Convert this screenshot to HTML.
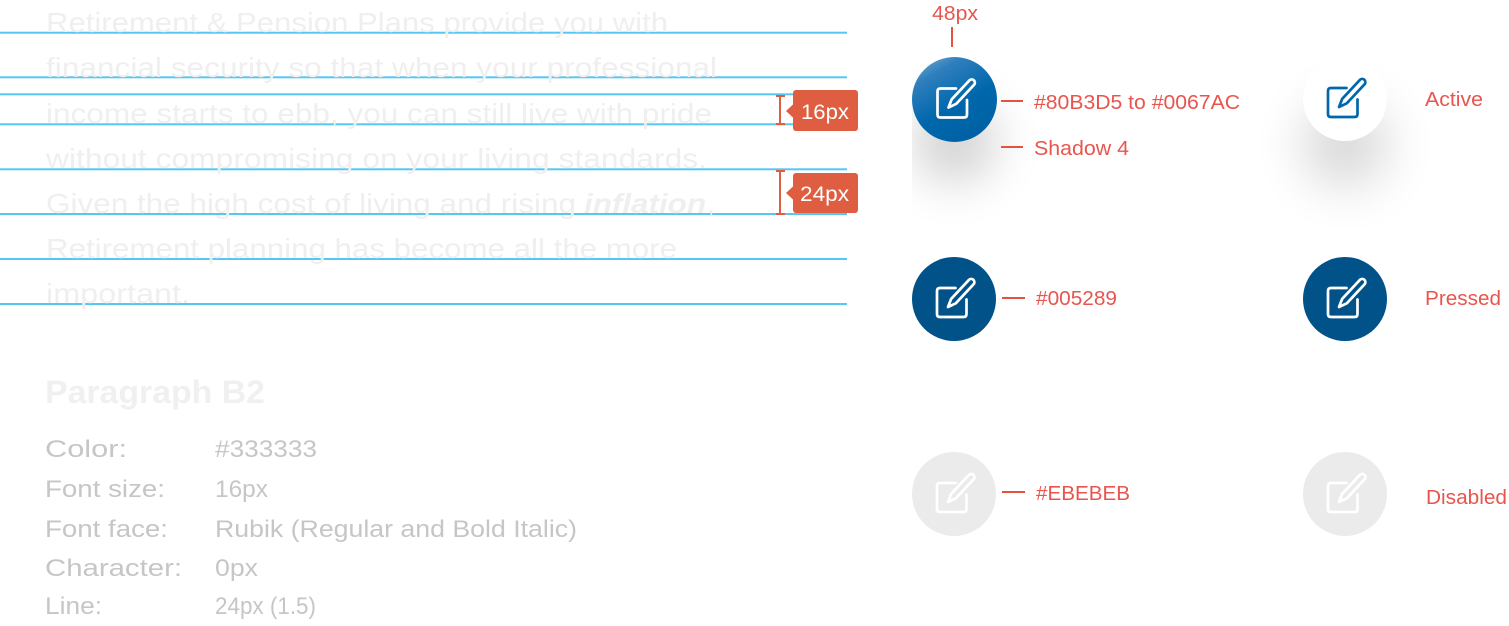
<!DOCTYPE html>
<html>
<head>
<meta charset="utf-8">
<style>
  html,body{margin:0;padding:0;background:#fff;}
  body{width:1509px;height:626px;position:relative;overflow:hidden;font-family:"Liberation Sans",sans-serif;}
  .clip{position:absolute;overflow:hidden;}
  .circ{position:absolute;border-radius:50%;}
  svg{position:absolute;left:0;top:0;}
</style>
</head>
<body>

<!-- shadowed circle 1 (clipped at left edge) -->
<div class="clip" style="left:912px;top:0;width:300px;height:240px;">
  <div class="circ" style="left:0;top:57px;width:85px;height:85px;background:linear-gradient(150deg,#80B3D5 0%,#2f7fbd 22%,#0067AC 55%,#005fa0 100%);box-shadow:0 42px 45px rgba(0,0,0,0.17);"></div>
</div>
<!-- active -->
<div class="circ" style="left:1303px;top:57px;width:84px;height:84px;background:#fff;box-shadow:0 45px 50px rgba(0,0,0,0.16);"></div>
<!-- pressed -->
<div class="circ" style="left:912px;top:257px;width:84px;height:84px;background:#005289;"></div>
<div class="circ" style="left:1303px;top:257px;width:84px;height:84px;background:#005289;"></div>
<!-- disabled -->
<div class="circ" style="left:912px;top:452px;width:84px;height:84px;background:#EBEBEB;"></div>
<div class="circ" style="left:1303px;top:452px;width:84px;height:84px;background:#EBEBEB;"></div>

<svg width="1509" height="626" viewBox="0 0 1509 626" xmlns="http://www.w3.org/2000/svg">
  <defs>
    <g id="ic" fill="none" stroke-width="2.7" stroke-linecap="round" stroke-linejoin="round">
      <path d="M1.5,-11 H-14 Q-17,-11 -17,-8 V15 Q-17,18 -14,18 H9.5 Q12.5,18 12.5,15 V0.5"/>
      <path transform="translate(-6,8) rotate(-47)" d="M0,0 L8,-3.2 L34,-3.2 A3.2,3.2 0 0 1 34,3.2 L8,3.2 Z"/>
    </g>
  </defs>

  <!-- blue guide lines -->
  <g fill="#56C6F2">
    <rect x="0" y="31.7" width="847" height="2"/>
    <rect x="0" y="76.3" width="847" height="2"/>
    <rect x="0" y="93.3" width="847" height="2"/>
    <rect x="0" y="123.3" width="847" height="2"/>
    <rect x="0" y="168.3" width="847" height="2"/>
    <rect x="0" y="213" width="847" height="2"/>
    <rect x="0" y="258" width="847" height="2"/>
    <rect x="0" y="303" width="847" height="2"/>
  </g>

  <!-- paragraph text -->
  <g fill="#EFEFEF" font-family="Liberation Sans, sans-serif" font-size="28">
    <text x="46" y="32" textLength="622" lengthAdjust="spacingAndGlyphs">Retirement &amp; Pension Plans provide you with</text>
    <text x="46" y="77" textLength="671" lengthAdjust="spacingAndGlyphs">financial security so that when your professional</text>
    <text x="46" y="123" textLength="666" lengthAdjust="spacingAndGlyphs">income starts to ebb, you can still live with pride</text>
    <text x="46" y="168" textLength="661" lengthAdjust="spacingAndGlyphs">without compromising on your living standards.</text>
    <text x="46" y="213" textLength="530" lengthAdjust="spacingAndGlyphs">Given the high cost of living and rising</text>
    <text x="584" y="213" textLength="122" lengthAdjust="spacingAndGlyphs" font-weight="bold" font-style="italic">inflation</text>
    <text x="707" y="213">,</text>
    <text x="46" y="258" textLength="631" lengthAdjust="spacingAndGlyphs">Retirement planning has become all the more</text>
    <text x="46" y="303" textLength="144" lengthAdjust="spacingAndGlyphs">important.</text>
  </g>

  <!-- measure markers -->
  <g stroke="#DF5D40" stroke-width="2" fill="none">
    <line x1="780" y1="96" x2="780" y2="124"/>
    <line x1="776" y1="96" x2="785" y2="96"/>
    <line x1="776" y1="124" x2="785" y2="124"/>
    <line x1="780" y1="171" x2="780" y2="214"/>
    <line x1="776" y1="171" x2="785" y2="171"/>
    <line x1="776" y1="214" x2="785" y2="214"/>
  </g>
  <g fill="#DF5D40">
    <rect x="793" y="90" width="65" height="41" rx="3"/>
    <polygon points="786,111 794,103.5 794,118.5"/>
    <rect x="793" y="173" width="65" height="40" rx="3"/>
    <polygon points="786,193 794,185.5 794,200.5"/>
  </g>
  <g fill="#fff" font-family="Liberation Sans, sans-serif" font-size="21">
    <text x="801" y="119" textLength="48" lengthAdjust="spacingAndGlyphs">16px</text>
    <text x="800" y="201" textLength="49" lengthAdjust="spacingAndGlyphs">24px</text>
  </g>

  <!-- Paragraph B2 spec -->
  <text x="45" y="403" font-family="Liberation Sans, sans-serif" font-size="32" font-weight="bold" fill="#F0F0F0" textLength="220" lengthAdjust="spacingAndGlyphs">Paragraph B2</text>
  <g fill="#C6C6C6" font-family="Liberation Sans, sans-serif" font-size="24">
    <text x="45" y="457" textLength="82" lengthAdjust="spacingAndGlyphs">Color:</text>
    <text x="215" y="457" textLength="102" lengthAdjust="spacingAndGlyphs">#333333</text>
    <text x="45" y="497" textLength="120" lengthAdjust="spacingAndGlyphs">Font size:</text>
    <text x="215" y="497" textLength="53" lengthAdjust="spacingAndGlyphs">16px</text>
    <text x="45" y="537" textLength="123" lengthAdjust="spacingAndGlyphs">Font face:</text>
    <text x="215" y="537" textLength="362" lengthAdjust="spacingAndGlyphs">Rubik (Regular and Bold Italic)</text>
    <text x="45" y="576" textLength="137" lengthAdjust="spacingAndGlyphs">Character:</text>
    <text x="215" y="576" textLength="43" lengthAdjust="spacingAndGlyphs">0px</text>
    <text x="45" y="614" textLength="57" lengthAdjust="spacingAndGlyphs">Line:</text>
    <text x="215" y="614" textLength="101" lengthAdjust="spacingAndGlyphs">24px (1.5)</text>
  </g>

  <!-- icons -->
  <use href="#ic" transform="translate(954.5,99.5)" stroke="#fff"/>
  <use href="#ic" transform="translate(1345,99)" stroke="#0067AC"/>
  <use href="#ic" transform="translate(954,299)" stroke="#fff"/>
  <use href="#ic" transform="translate(1345,299)" stroke="#fff"/>
  <use href="#ic" transform="translate(954,494)" stroke="#fff"/>
  <use href="#ic" transform="translate(1345,494)" stroke="#fff"/>

  <!-- annotations -->
  <g stroke="#E5533F" stroke-width="2">
    <line x1="952" y1="27" x2="952" y2="47"/>
    <line x1="1001" y1="101" x2="1023" y2="101"/>
    <line x1="1001" y1="147" x2="1023" y2="147"/>
    <line x1="1002" y1="298" x2="1025" y2="298"/>
    <line x1="1002" y1="492" x2="1025" y2="492"/>
  </g>
  <g fill="#E8554E" font-family="Liberation Sans, sans-serif" font-size="20">
    <text x="932" y="20" textLength="46" lengthAdjust="spacingAndGlyphs">48px</text>
    <text x="1034" y="109" textLength="206" lengthAdjust="spacingAndGlyphs">#80B3D5 to #0067AC</text>
    <text x="1034" y="155" textLength="95" lengthAdjust="spacingAndGlyphs">Shadow 4</text>
    <text x="1036" y="305" textLength="81" lengthAdjust="spacingAndGlyphs">#005289</text>
    <text x="1036" y="500" textLength="94" lengthAdjust="spacingAndGlyphs">#EBEBEB</text>
    <text x="1425" y="106" textLength="58" lengthAdjust="spacingAndGlyphs">Active</text>
    <text x="1425" y="305" textLength="76" lengthAdjust="spacingAndGlyphs">Pressed</text>
    <text x="1426" y="504" textLength="81" lengthAdjust="spacingAndGlyphs">Disabled</text>
  </g>
</svg>
</body>
</html>
